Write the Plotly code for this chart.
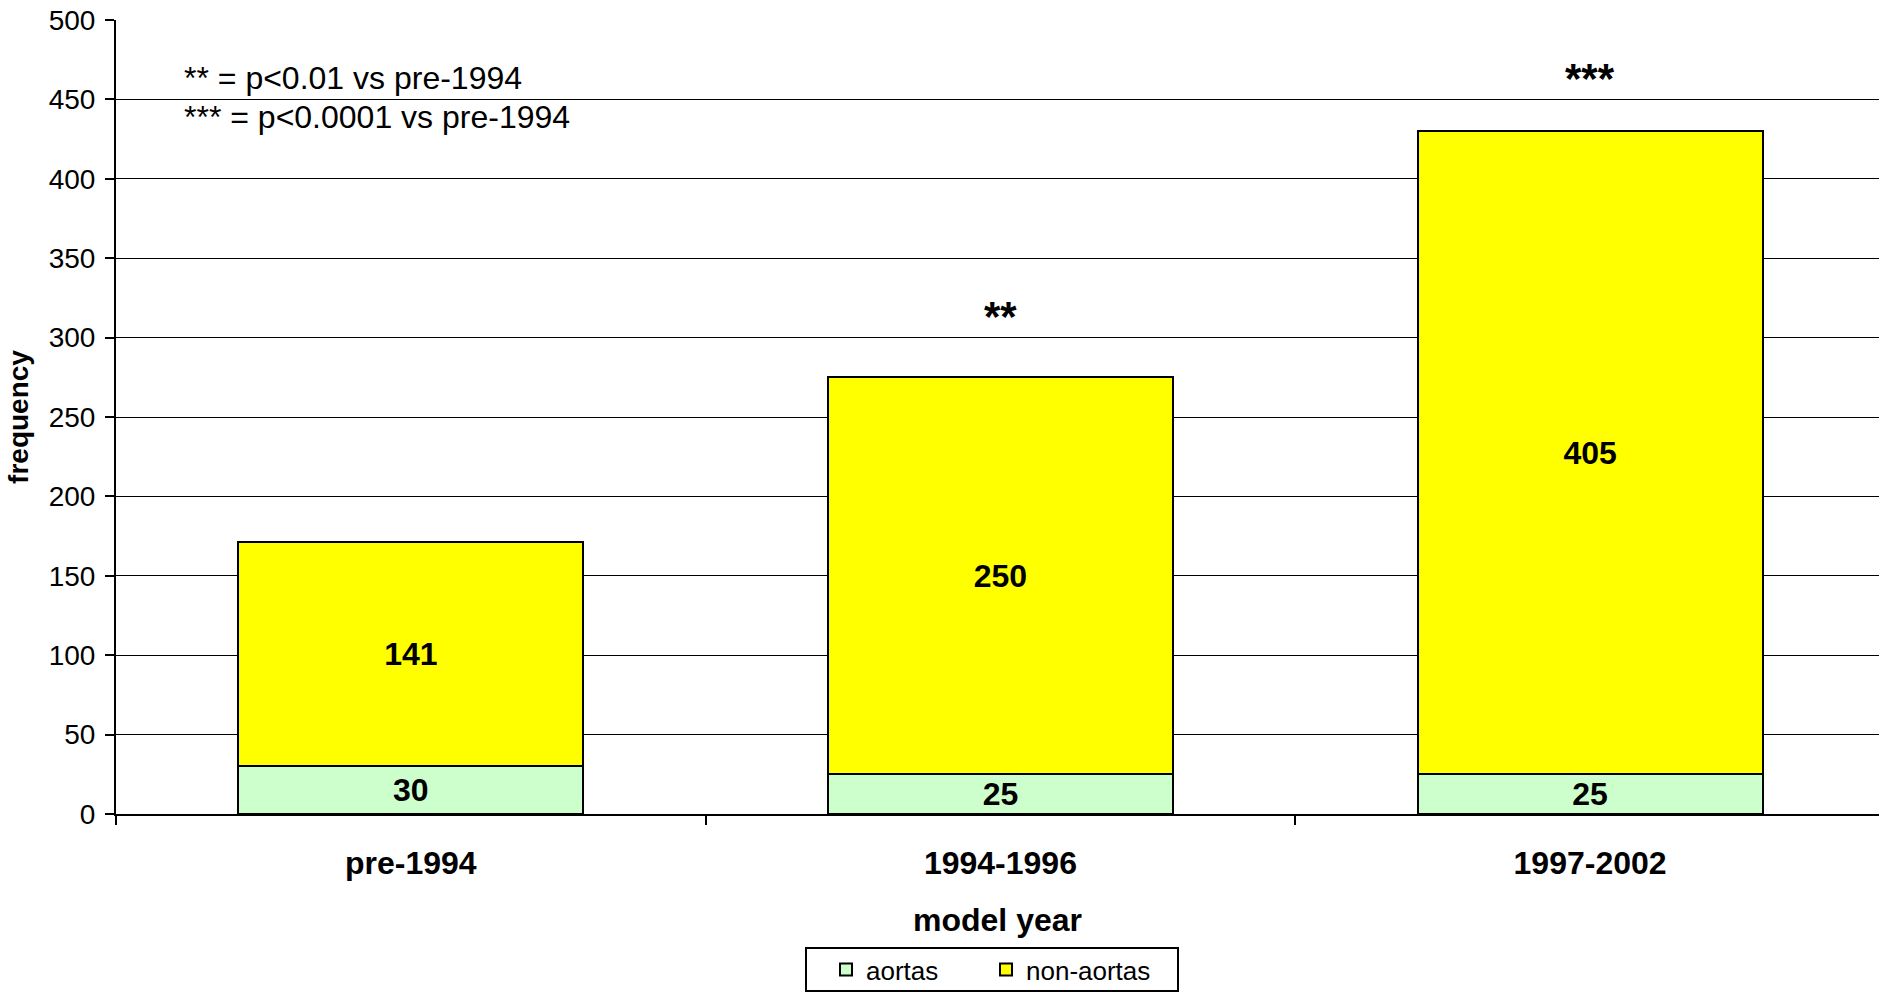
import plotly.graph_objects as go

categories = ["pre-1994", "1994-1996", "1997-2002"]
aortas = [30, 25, 25]
non_aortas = [141, 250, 405]
sig_marks = ["", "**", "***"]
note_lines = ["** = p<0.01 vs pre-1994", "*** = p<0.0001 vs pre-1994"]
y_ticks = [0, 50, 100, 150, 200, 250, 300, 350, 400, 450, 500]

FONT = "Liberation Sans, Arial, sans-serif"
W, H = 1879, 993
ML, MR, MT, MB = 116, 0, 20, 179
PW = W - ML - MR
PH = H - MT - MB


def px_x(px):
    return (px - ML) / PW


def px_y(py):
    return (H - MB - py) / PH


fig = go.Figure()
fig.add_trace(go.Bar(
    x=categories, y=aortas, name="aortas", legend="legend",
    marker=dict(color="#CCFFCC", line=dict(color="black", width=2)),
    text=[str(v) for v in aortas], textposition="inside", insidetextanchor="middle",
    constraintext="none", textangle=0,
    textfont=dict(family=FONT, size=32, color="black", weight="bold"),
    width=0.585,
))
fig.add_trace(go.Bar(
    x=categories, y=non_aortas, name="non-aortas", legend="legend2",
    marker=dict(color="#FFFF00", line=dict(color="black", width=2)),
    text=[str(v) for v in non_aortas], textposition="inside", insidetextanchor="middle",
    constraintext="none", textangle=0,
    textfont=dict(family=FONT, size=32, color="black", weight="bold"),
    width=0.585,
))

# significance markers above bars
sig_y = {1: 313, 2: 463}
for i, m in enumerate(sig_marks):
    if m:
        fig.add_annotation(x=categories[i], y=sig_y[i], xref="x", yref="y", text=m,
                           showarrow=False, yanchor="middle",
                           font=dict(family=FONT, size=42, color="black", weight="bold"))

# note text
for line, py in zip(note_lines, [78, 117]):
    fig.add_annotation(x=px_x(182), y=px_y(py),
                       xref="paper", yref="paper", text=line, showarrow=False,
                       xanchor="left", yanchor="middle",
                       font=dict(family=FONT, size=32, color="black"))

# legend frame
fig.add_shape(type="rect", xref="paper", yref="paper",
              x0=px_x(806), x1=px_x(1178), y0=px_y(991), y1=px_y(948),
              line=dict(color="black", width=2), fillcolor="rgba(0,0,0,0)", layer="above")

leg_common = dict(
    orientation="h", xanchor="left", y=px_y(970), yanchor="middle",
    borderwidth=0, bgcolor="rgba(0,0,0,0)",
    font=dict(family=FONT, size=26, color="black"),
    itemwidth=30,
)

fig.update_layout(
    barmode="stack",
    width=W, height=H,
    margin=dict(l=ML, r=MR, t=MT, b=MB, pad=0),
    paper_bgcolor="white", plot_bgcolor="white",
    font=dict(family=FONT, color="black"),
    showlegend=True,
    legend=dict(x=px_x(826), **leg_common),
    legend2=dict(x=px_x(986), **leg_common),
    xaxis=dict(
        range=[-0.5, 2.49],
        showline=True, linecolor="black", linewidth=2,
        ticks="outside", tickson="boundaries", ticklen=9, tickcolor="black", tickwidth=1.5,
        tickfont=dict(family=FONT, size=32, color="black", weight="bold"),
        ticklabelstandoff=20,
        title=dict(text="model year", standoff=28,
                   font=dict(family=FONT, size=32, color="black", weight="bold")),
        showgrid=False, zeroline=False,
    ),
    yaxis=dict(
        range=[0, 500], tickvals=y_ticks,
        showline=True, linecolor="black", linewidth=2,
        ticks="outside", ticklen=9, tickcolor="black", tickwidth=1.5,
        tickfont=dict(family=FONT, size=28, color="black"),
        ticklabelstandoff=4,
        showgrid=True, gridcolor="black", gridwidth=1,
        zeroline=False,
        title=dict(text="frequency", standoff=12,
                   font=dict(family=FONT, size=28, color="black", weight="bold")),
    ),
)

fig.write_html("out.html", config={"displayModeBar": False},
               post_script="document.body.style.margin='0';document.body.style.overflow='hidden';")
